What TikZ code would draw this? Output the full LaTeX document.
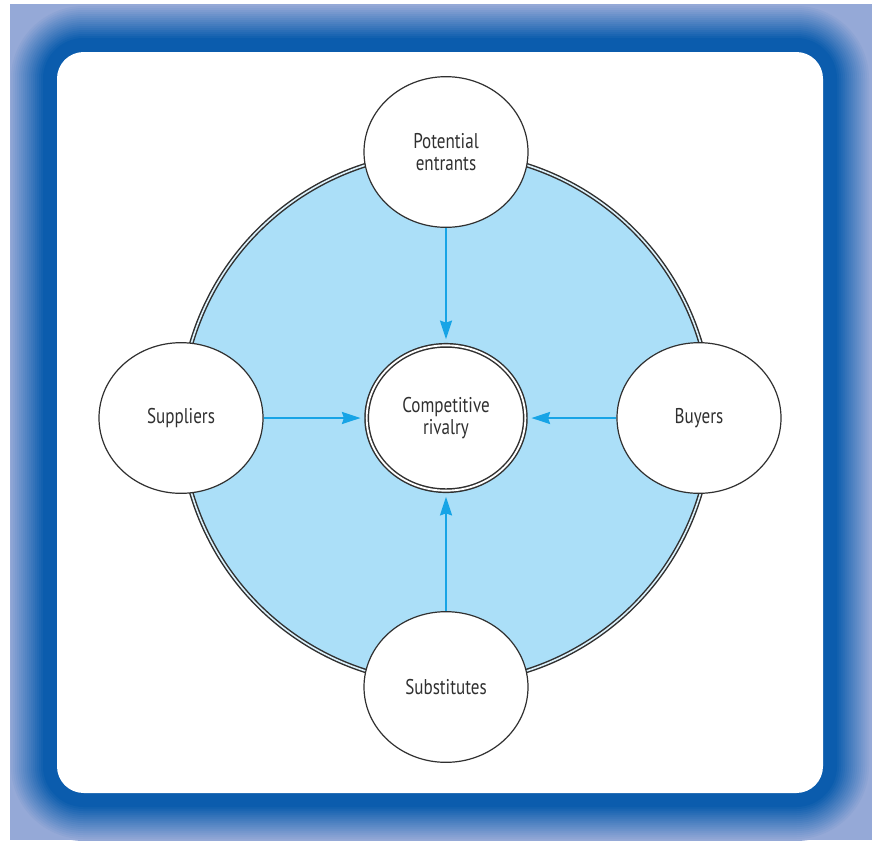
\documentclass[tikz,border=0pt]{standalone}
\usepackage{fontspec}
\newfontfamily\forcefont{PT Sans}[FakeStretch=0.8]
\usepackage{tikz}
\usetikzlibrary{shapes.geometric}
\usetikzlibrary{arrows.meta}

\definecolor{framedark}{HTML}{0B5CAD}
\definecolor{framelight}{HTML}{95A9D7}
\definecolor{ringfill}{HTML}{ABDFF8}
\definecolor{arrowblue}{HTML}{17A4E6}
\definecolor{inkgrey}{HTML}{303030}

\begin{document}
\begin{tikzpicture}[x=0.75pt, y=-0.75pt,
    force/.style={ellipse, draw=inkgrey, line width=0.9pt, fill=white, inner sep=0pt,
        minimum width=123pt, minimum height=113pt, align=center, text=inkgrey,
        font=\forcefont\fontsize{16}{16.5}\selectfont},
    rivalry/.style={force, line width=1.1pt, double=white, double distance=1.4pt,
        minimum width=119pt, minimum height=109pt},
    push/.style={arrowblue, line width=1.5pt, -{Stealth[length=14pt, width=9pt, inset=1.5pt]}}]
            % page
            \fill[white] (0,0) rectangle (874,840);
            \useasboundingbox (0,0) rectangle (874,840);

            % shaded frame
            \begin{scope}
                \clip (10,4) rectangle (872,840);
                \fill[framelight] (10,4) rectangle (872,840);
                \foreach \s in {48,46,...,0}
                    {
                    \pgfmathsetmacro{\p}{min(100,(48-\s)*100/34)}
                    \pgfmathsetmacro{\r}{(27+\s)*0.75}
                    \fill[framedark!\p!framelight, rounded corners=\r pt] (57-\s,52-\s) rectangle (823+\s,793+\s);
                    }
            \end{scope}
            \fill[white, rounded corners=20pt] (57,52) rectangle (823,793);

            % ring
            \draw[inkgrey, line width=1.1pt, double=ringfill!40!white, double distance=1.2pt, fill=ringfill]
                (446,418) circle[radius=199pt];

            % forces
            \node[rivalry] (rivalry) at (446,418) {Competitive\\rivalry};
            \node[force] (entrants) at (446,152) {Potential\\entrants};
            \node[force] (suppliers) at (181,418) {Suppliers};
            \node[force] (buyers) at (699,418) {Buyers};
            \node[force] (substitutes) at (446,687) {Substitutes};

            % arrows
            \foreach \f in {entrants,suppliers,buyers,substitutes}
                \draw[push, shorten >=4pt] (\f) -- (rivalry);
        \end{tikzpicture}
\end{document}
